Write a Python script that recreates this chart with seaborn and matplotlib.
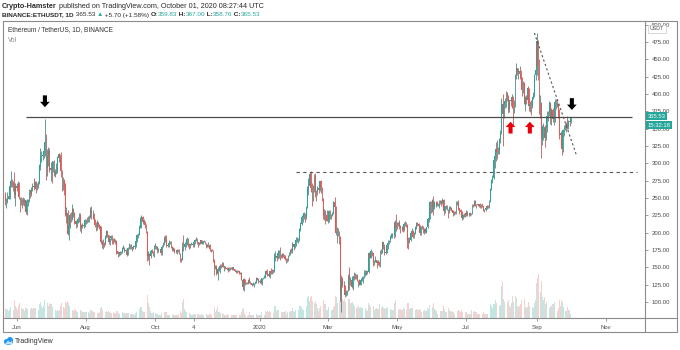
import numpy as np
import pandas as pd
import matplotlib
matplotlib.use("Agg")
import matplotlib.pyplot as plt
from matplotlib.lines import Line2D
from matplotlib.patches import Ellipse, Polygon
import seaborn as sns

# ---------------- data ----------------
start_date = "2019-05-22"
first_open = 256.0

close = [
    245, 245, 249, 253, 268, 274, 272, 270, 255, 268,  # May 2019
    265, 270, 251, 242, 247, 247, 244, 247, 230, 246, 247, 261, 256, 263, 268, 266, 273, 263, 270, 271,
    296, 309, 310, 312, 318, 331, 293, 311, 318, 290,  # Jun
    293, 291, 303, 283, 287, 288, 307, 313, 307, 289, 268, 275, 268, 226, 228, 198, 210, 225, 220, 234,
    229, 217, 213, 217, 219, 225, 207, 211, 210, 210, 218,  # Jul
    218, 217, 222, 222, 233, 225, 226, 219, 211, 206, 216, 211, 209, 187, 187, 184, 183, 194, 202, 196,
    187, 192, 195, 190, 187, 188, 186, 173, 169, 169, 172,  # Aug
    172, 178, 178, 174, 174, 168, 178, 181, 180, 180, 178, 180, 180, 188, 197, 197, 208, 220, 222, 216,
    216, 211, 201, 166, 169, 166, 174, 174, 170, 180,  # Sep
    180, 180, 175, 176, 176, 170, 180, 185, 193, 191, 181, 182, 185, 187, 180, 175, 177, 172, 172, 175,
    174, 170, 162, 161, 180, 179, 184, 184, 191, 183, 182,  # Oct
    183, 183, 182, 186, 189, 191, 186, 183, 185, 189, 184, 187, 187, 184, 180, 182, 182, 176, 175, 174,
    161, 150, 152, 141, 147, 148, 152, 150, 155, 151,  # Nov
    151, 149, 147, 146, 148, 149, 147, 150, 147, 145, 143, 145, 144, 141, 142, 132, 122, 133, 128, 128,
    127, 132, 128, 127, 125, 125, 127, 128, 134, 132, 129,  # Dec
    130, 127, 134, 134, 136, 144, 142, 141, 138, 144, 142, 146, 144, 165, 166, 164, 171, 174, 167, 166,
    169, 168, 162, 162, 160, 168, 170, 175, 174, 184, 180,  # Jan 2020
    183, 189, 189, 189, 204, 213, 223, 223, 228, 223, 236, 265, 268, 284, 264, 259, 267, 282, 259, 258,
    265, 261, 274, 265, 248, 225, 227, 226, 217,  # Feb
    218, 231, 224, 224, 228, 244, 237, 200, 201, 201, 194, 112, 133, 124, 124, 110, 115, 117, 137, 131,
    131, 122, 135, 138, 136, 138, 131, 131, 125, 132, 133,  # Mar
    136, 141, 141, 144, 143, 170, 164, 174, 170, 157, 158, 161, 156, 157, 153, 172, 171, 186, 180, 171,
    171, 182, 185, 189, 194, 197, 197, 196, 215, 206,  # Apr
    212, 214, 210, 207, 206, 204, 212, 212, 211, 188, 186, 190, 199, 203, 194, 199, 207, 214, 213, 210,
    199, 208, 206, 201, 205, 201, 208, 220, 220, 244, 231,  # May
    247, 237, 244, 244, 240, 241, 244, 246, 243, 247, 231, 237, 238, 234, 231, 235, 236, 232, 229, 229,
    228, 243, 243, 235, 232, 230, 221, 225, 228, 226,  # Jun
    230, 226, 225, 229, 227, 241, 239, 246, 242, 241, 240, 241, 239, 241, 238, 233, 232, 235, 239, 236,
    245, 263, 275, 279, 305, 311, 321, 317, 318, 335, 345,  # Jul
    386, 371, 386, 390, 401, 395, 379, 391, 390, 395, 380, 387, 428, 437, 432, 433, 429, 423, 406, 416,
    386, 395, 392, 408, 383, 386, 383, 395, 399, 428, 435,  # Aug
    477, 440, 385, 387, 335, 353, 353, 337, 351, 368, 374, 387, 365, 377, 364, 365, 389, 384, 385, 371,
    341, 344, 320, 348, 351, 354, 357, 354, 360, 359.83,  # Sep
    365.53,  # Oct 1
]

high = [
    258, 250, 258, 258, 270, 289, 277, 274, 288, 271,
    272, 275, 273, 252, 252, 250, 251, 250, 247, 249, 249, 263, 260, 266, 271, 279, 275, 274, 272, 275,
    299, 322, 318, 316, 323, 364, 342, 321, 323, 322,
    302, 294, 304, 305, 292, 300, 311, 315, 314, 316, 291, 280, 278, 271, 237, 232, 214, 229, 230, 241,
    235, 230, 218, 219, 223, 228, 228, 213, 214, 213, 220,
    220, 222, 224, 225, 237, 238, 232, 228, 220, 216, 218, 216, 213, 210, 190, 191, 187, 197, 204, 202,
    197, 193, 197, 197, 192, 193, 191, 189, 174, 171, 174,
    174, 180, 182, 180, 176, 176, 180, 185, 183, 183, 180, 182, 181, 189, 198, 200, 211, 223, 225, 224,
    219, 217, 212, 203, 173, 170, 175, 176, 174, 182,
    185, 181, 181, 178, 177, 178, 182, 187, 195, 196, 197, 184, 189, 188, 188, 181, 179, 178, 174, 176,
    177, 177, 171, 163, 186, 197, 186, 189, 194, 192, 185,
    184, 186, 184, 189, 191, 194, 192, 187, 186, 190, 190, 188, 189, 188, 185, 183, 186, 183, 177, 177,
    175, 162, 153, 153, 150, 150, 155, 155, 157, 157,
    152, 152, 150, 150, 150, 150, 150, 151, 151, 148, 146, 146, 146, 145, 143, 143, 133, 134, 133, 129,
    129, 133, 136, 130, 127, 129, 127, 130, 136, 135, 134,
    133, 131, 135, 136, 139, 145, 146, 147, 141, 145, 149, 147, 146, 171, 173, 166, 175, 175, 179, 169,
    170, 171, 168, 164, 163, 168, 172, 177, 178, 186, 184,
    185, 194, 194, 192, 206, 216, 225, 227, 230, 229, 238, 268, 279, 287, 289, 271, 269, 285, 286, 261,
    268, 264, 275, 276, 266, 250, 234, 232, 232,
    223, 232, 233, 227, 230, 245, 251, 238, 208, 207, 202, 195, 139, 136, 130, 124, 118, 118, 140, 150,
    136, 137, 136, 143, 142, 140, 140, 132, 133, 134, 135,
    137, 146, 146, 146, 145, 172, 174, 176, 174, 171, 160, 167, 161, 160, 159, 175, 176, 188, 187, 184,
    175, 183, 189, 190, 196, 199, 199, 199, 218, 227,
    216, 216, 218, 211, 209, 209, 215, 217, 215, 212, 194, 194, 201, 207, 204, 201, 210, 216, 216, 214,
    211, 209, 211, 210, 206, 207, 208, 221, 224, 246, 245,
    249, 253, 245, 246, 246, 243, 247, 247, 247, 250, 249, 239, 240, 240, 233, 239, 239, 237, 233, 231,
    231, 245, 245, 247, 236, 234, 231, 227, 229, 229,
    232, 231, 227, 230, 229, 242, 242, 247, 247, 242, 242, 242, 243, 241, 242, 239, 234, 237, 240, 240,
    247, 265, 278, 283, 306, 316, 331, 333, 324, 336, 348,
    394, 400, 388, 394, 405, 403, 399, 392, 394, 400, 397, 392, 429, 445, 438, 437, 440, 434, 424, 419,
    418, 397, 399, 411, 409, 390, 392, 396, 403, 429, 440,
    488, 478, 451, 398, 389, 356, 358, 355, 355, 376, 375, 390, 388, 380, 380, 370, 393, 393, 390, 386,
    378, 346, 346, 350, 356, 358, 359, 368, 362, 362,
    367.00,
]

low = [
    240, 236, 243, 248, 249, 266, 266, 260, 250, 238,
    260, 263, 249, 230, 240, 236, 240, 239, 227, 226, 239, 244, 250, 253, 260, 262, 265, 257, 261, 265,
    270, 290, 302, 305, 307, 310, 276, 282, 296, 288,
    275, 271, 287, 282, 280, 285, 286, 302, 300, 280, 260, 262, 255, 224, 214, 196, 189, 206, 216, 218,
    223, 212, 207, 208, 214, 216, 203, 200, 207, 206, 208,
    212, 214, 215, 215, 221, 220, 219, 215, 208, 202, 204, 208, 205, 184, 178, 177, 179, 182, 192, 194,
    183, 182, 189, 184, 184, 186, 183, 169, 165, 166, 168,
    169, 171, 176, 172, 170, 166, 168, 176, 176, 177, 174, 176, 177, 179, 187, 193, 196, 207, 207, 213,
    212, 207, 199, 159, 160, 153, 163, 170, 166, 165,
    177, 176, 171, 172, 173, 168, 168, 179, 182, 187, 180, 180, 180, 183, 178, 173, 174, 170, 170, 169,
    172, 169, 157, 158, 160, 173, 175, 180, 182, 180, 177,
    178, 182, 180, 180, 184, 188, 184, 180, 182, 184, 183, 183, 186, 183, 178, 180, 180, 174, 172, 173,
    158, 139, 147, 139, 131, 144, 142, 149, 150, 150,
    145, 147, 146, 143, 145, 146, 147, 146, 146, 144, 142, 142, 143, 140, 140, 131, 117, 116, 125, 126,
    126, 126, 127, 126, 123, 124, 122, 126, 127, 131, 128,
    128, 126, 125, 133, 134, 135, 141, 138, 136, 135, 140, 141, 142, 143, 159, 159, 162, 164, 161, 163,
    164, 165, 160, 156, 158, 159, 166, 168, 171, 171, 175,
    178, 181, 186, 185, 188, 202, 211, 216, 220, 216, 220, 236, 254, 266, 258, 238, 246, 259, 252, 245,
    255, 257, 260, 257, 245, 220, 218, 212, 217,
    214, 215, 220, 219, 224, 227, 236, 196, 185, 195, 183, 101, 86, 122, 120, 107, 108, 110, 116, 117,
    125, 120, 118, 131, 133, 133, 130, 121, 125, 124, 130,
    128, 135, 138, 139, 140, 142, 163, 163, 167, 152, 154, 157, 149, 154, 152, 151, 169, 170, 177, 168,
    169, 170, 177, 184, 186, 193, 192, 192, 194, 202,
    205, 210, 205, 199, 202, 201, 202, 209, 208, 178, 177, 185, 188, 197, 192, 193, 198, 205, 209, 205,
    196, 197, 205, 199, 198, 199, 200, 206, 216, 219, 228,
    230, 225, 234, 237, 239, 239, 235, 241, 239, 242, 225, 229, 234, 232, 221, 229, 232, 231, 224, 225,
    227, 227, 240, 232, 227, 228, 218, 220, 222, 223,
    224, 224, 224, 224, 225, 227, 237, 238, 238, 236, 238, 237, 236, 235, 237, 231, 230, 231, 234, 235,
    235, 244, 261, 271, 278, 293, 304, 306, 313, 313, 330,
    343, 325, 366, 380, 381, 390, 372, 374, 383, 380, 356, 373, 381, 421, 428, 421, 421, 417, 397, 402,
    386, 376, 385, 390, 375, 374, 369, 380, 393, 395, 420,
    428, 420, 371, 365, 308, 326, 333, 324, 333, 345, 361, 368, 357, 355, 360, 355, 360, 378, 381, 365,
    335, 332, 312, 316, 340, 348, 345, 350, 350, 354,
    358.76,
]

volume_k = [
    700, 550, 600, 450, 550, 750, 550, 550, 1200, 800,
    650, 550, 800, 1000, 700, 600, 600, 500, 650, 700, 600, 700, 600, 650, 600, 700, 650, 700, 600, 550,
    950, 1100, 800, 700, 850, 1200, 1300, 1000, 800, 1000,
    950, 950, 750, 700, 550, 500, 550, 500, 550, 850, 1000, 750, 650, 1100, 1000, 1150, 1000, 800, 650, 550,
    450, 600, 550, 500, 400, 500, 550, 450, 400, 400, 420,
    420, 380, 380, 330, 520, 520, 470, 420, 420, 420, 330, 330, 380, 650, 750, 550, 380, 420, 470, 420,
    470, 420, 330, 330, 380, 330, 330, 470, 470, 330, 280,
    280, 380, 330, 330, 280, 330, 330, 330, 280, 280, 280, 280, 230, 330, 430, 470, 620, 780, 780, 480,
    380, 380, 430, 1600, 1000, 750, 500, 330, 330, 430,
    330, 280, 280, 230, 190, 230, 330, 330, 430, 380, 430, 230, 230, 230, 280, 280, 230, 230, 190, 230,
    230, 280, 480, 330, 1100, 1300, 600, 480, 430, 430, 330,
    280, 230, 230, 280, 280, 280, 280, 280, 190, 230, 280, 230, 190, 230, 280, 190, 190, 280, 280, 230,
    480, 780, 380, 520, 780, 430, 430, 330, 330, 280,
    230, 230, 230, 280, 230, 190, 190, 190, 230, 230, 230, 230, 190, 230, 190, 380, 580, 680, 330, 230,
    140, 230, 380, 230, 190, 230, 230, 190, 280, 230, 230,
    230, 230, 380, 230, 230, 480, 430, 480, 380, 480, 430, 330, 330, 850, 850, 480, 570, 570, 620, 380,
    380, 380, 430, 480, 280, 380, 430, 480, 480, 660, 480,
    430, 520, 520, 520, 850, 850, 750, 620, 570, 660, 850, 1400, 1500, 1150, 1400, 1500, 1150, 1050, 1150, 950,
    660, 480, 660, 850, 850, 1250, 950, 950, 570,
    570, 750, 660, 570, 570, 750, 850, 1500, 1400, 1050, 1150, 1800, 1850, 1300, 1150, 1300, 1100, 1000, 1300, 1300,
    1050, 1000, 1100, 950, 850, 700, 750, 800, 650, 750, 700,
    700, 750, 700, 550, 450, 1050, 900, 750, 600, 850, 550, 600, 700, 600, 600, 950, 700, 850, 700, 700,
    600, 700, 750, 600, 600, 550, 550, 550, 1050, 1200,
    850, 550, 600, 600, 550, 550, 700, 600, 550, 1050, 1050, 600, 700, 700, 700, 450, 550, 600, 550, 550,
    600, 550, 400, 450, 550, 450, 450, 700, 600, 900, 750,
    750, 1000, 600, 550, 450, 300, 400, 450, 450, 450, 850, 600, 400, 400, 700, 550, 450, 400, 450, 400,
    300, 550, 450, 550, 450, 400, 550, 400, 400, 400,
    400, 300, 250, 250, 250, 550, 400, 450, 400, 400, 250, 250, 300, 300, 300, 400, 250, 250, 250, 300,
    550, 950, 850, 700, 950, 950, 1200, 1050, 700, 800, 900,
    2200, 2500, 1300, 1100, 1200, 1100, 1200, 850, 750, 1000, 1500, 1100, 1500, 1350, 850, 750, 850, 950, 1200, 850,
    1300, 750, 650, 750, 1100, 850, 850, 750, 650, 1000, 1200,
    2400, 2700, 3000, 1800, 2500, 1400, 1200, 1400, 950, 1100, 750, 650, 850, 850, 950, 950, 1100, 750, 450, 650,
    1200, 850, 1200, 1100, 750, 450, 450, 750, 550, 550,
    250,
]

tick_dates = ["2019-06-01", "2019-08-01", "2019-10-01", "2019-11-04", "2020-01-01",
              "2020-03-01", "2020-05-01", "2020-07-01", "2020-09-01", "2020-11-01"]
tick_labels = ["Jun", "Aug", "Oct", "4", "2020", "Mar", "May", "Jul", "Sep", "Nov"]
price_ticks = [100, 125, 150, 175, 200, 225, 250, 275, 300, 325, 350, 375, 400, 425, 450, 475, 500]

# analyst drawings
resistance_level = 367.0
resistance_span = ("2019-06-09", "2020-11-24")
support_level = 287.0
support_span = ("2020-02-02", "2020-11-28")
trend_start = ("2020-08-30", 488.0)
trend_end = ("2020-10-06", 312.0)
black_arrows = [("2019-06-26", 381.0), ("2020-10-02", 377.0)]
red_arrows = [("2020-08-09", 360.0), ("2020-08-26", 360.0)]

# ---------------- build ----------------
sns.set_theme(style="white")
plt.rcParams["font.family"] = ["Liberation Sans", "DejaVu Sans"]

n = min(len(close), len(high), len(low), len(volume_k))
t0 = pd.Timestamp(start_date)


def day(d):
    return (pd.Timestamp(d) - t0).days


idx = np.arange(n)
c = np.array(close[:n], float)
o = np.r_[first_open, c[:-1]]
h = np.maximum(np.array(high[:n], float), np.maximum(o, c))
lo = np.minimum(np.array(low[:n], float), np.minimum(o, c))
up = c >= o

UP, DN = "#26a69a", "#ef5350"
UPW, DNW = "#3f7f78", "#b5504d"

W, H = 680, 350
fig = plt.figure(figsize=(W / 100, H / 100), dpi=100)
fig.patch.set_facecolor("white")


def fx(x):
    return x / W


def fy(y):
    return 1 - y / H


L, R, T, B = 3, 645, 21, 318
rect = [fx(L), fy(B), (R - L) / W, (B - T) / H]
axv = fig.add_axes(rect, zorder=0)
ax = fig.add_axes(rect, zorder=1)
ax.patch.set_alpha(0)

# volume (seaborn)
df = pd.DataFrame({"day": idx, "vol": np.array(volume_k[:n], float),
                   "dir": np.where(up, "up", "down")})
sns.barplot(data=df, x="day", y="vol", hue="dir", palette={"up": UP, "down": DN},
            native_scale=True, dodge=False, width=0.8, errorbar=None, legend=False,
            saturation=1, alpha=0.27, linewidth=0, ax=axv)
xmin, xmax = -1.9, 563.4
axv.set_xlim(xmin, xmax)
axv.set_ylim(0, 3000 * (B - T) / 44)
axv.axis("off")

# candles
ax.vlines(idx, lo, h, colors=np.where(up, UPW, DNW), linewidth=0.55, zorder=2)
body = np.maximum(np.abs(c - o), 0.7)
ax.bar(idx, body, bottom=np.minimum(o, c), width=0.72, color=np.where(up, UP, DN),
       linewidth=0, zorder=3)

ax.set_xlim(xmin, xmax)
ax.set_ylim(76.9, 505.3)

# drawings
ax.hlines(resistance_level, day(resistance_span[0]), day(resistance_span[1]),
          color="#4d4d4d", linewidth=0.9, zorder=4)
ax.hlines(support_level, day(support_span[0]), day(support_span[1]),
          color="#555555", linewidth=0.8, linestyles=(0, (3, 3)), zorder=4)
ax.plot([day(trend_start[0]), day(trend_end[0])], [trend_start[1], trend_end[1]],
        color="#555555", linewidth=0.8, linestyle=(0, (2, 2.2)), zorder=4)

astyle = "simple,head_length=0.55,head_width=1.0,tail_width=0.42"
for d, tip in black_arrows:
    ax.annotate("", xy=(day(d), tip), xytext=(day(d), tip + 17),
                arrowprops=dict(arrowstyle=astyle, mutation_scale=7, color="black",
                                lw=0, shrinkA=0, shrinkB=0), zorder=5)
for d, tip in red_arrows:
    ax.annotate("", xy=(day(d), tip), xytext=(day(d), tip - 17),
                arrowprops=dict(arrowstyle=astyle, mutation_scale=7, color="#e8000b",
                                lw=0, shrinkA=0, shrinkB=0), zorder=5)

# axes styling
frame = "#8c8c8c"
for s in ax.spines.values():
    s.set_visible(True)
    s.set_color(frame)
    s.set_linewidth(0.8)
ax.yaxis.tick_right()
ax.set_yticks(price_ticks, [f"{v:.2f}" for v in price_ticks])
ax.set_xticks([day(d) for d in tick_dates], tick_labels)
ax.tick_params(axis="y", which="both", right=True, left=False, length=2.5, width=0.6,
               color=frame, labelsize=4.3, labelcolor="#4a4a4a", pad=2.5)
ax.tick_params(axis="x", which="both", bottom=True, length=2.2, width=0.6,
               color=frame, labelsize=4.3, labelcolor="#4a4a4a", pad=2.8)
ax.grid(False)
ax.set_xlabel("")
ax.set_ylabel("")


def fline(x0, y0, x1, y1):
    fig.add_artist(Line2D([fx(x0), fx(x1)], [fy(y0), fy(y1)], color=frame, linewidth=0.8))


fline(R, T, 677, T)
fline(677, T, 677, 332)
fline(L, 332, 677, 332)
fline(L, B, L, 332)
fline(R, B, R, 332)
fline(R, B, 677, B)

# price axis badges
fig.text(fx(657), fy(29), "USDT", fontsize=3.8, color="#505050", ha="center", va="center",
         bbox=dict(boxstyle="square,pad=0.35", fc="white", ec="#c8c8c8", lw=0.5))
fig.text(fx(647.5), fy(116), "365.53", fontsize=4.2, color="white", ha="left", va="center",
         bbox=dict(boxstyle="square,pad=0.3", fc=UP, ec="none"))
fig.text(fx(647.5), fy(125), "15:32:18", fontsize=4.2, color="white", ha="left", va="center",
         bbox=dict(boxstyle="square,pad=0.3", fc=UP, ec="none"))

# texts
renderer = fig.canvas.get_renderer()


def seq_text(x0, y, parts, size):
    x = x0
    for s, color, weight in parts:
        t = fig.text(fx(x), fy(y), s, color=color, fontsize=size, fontweight=weight,
                     ha="left", va="center")
        x += t.get_window_extent(renderer=renderer).width


dark = "#2a2a2a"
seq_text(2, 6, [("Crypto-Hamster", dark, "bold"),
                (" published on TradingView.com, October 01, 2020 08:27:44 UTC", dark, "normal")], 5.2)
seq_text(2, 15, [("BINANCE:ETHUSDT, 1D", dark, "bold"), (" 365.53 ", dark, "normal"),
                 ("▲", UP, "normal"), (" +5.70 (+1.58%) ", dark, "normal"),
                 ("O:", dark, "bold"), ("359.83", UP, "normal"),
                 (" H:", dark, "bold"), ("367.00", UP, "normal"),
                 (" L:", dark, "bold"), ("358.76", UP, "normal"),
                 (" C:", dark, "bold"), ("365.53", UP, "normal")], 4.6)
fig.text(fx(8), fy(30), "Ethereum / TetherUS, 1D, BINANCE", fontsize=4.7, color="#333333",
         ha="left", va="center")
fig.text(fx(8), fy(40), "Vol", fontsize=4.7, color="#8a8a8a", ha="left", va="center")

# TradingView logo (small blue cloud) + name
logo = "#2196f3"
fig.add_artist(Ellipse((fx(8.5), fy(342.5)), 9 / W, 4.5 / H, color=logo, lw=0))
fig.add_artist(Ellipse((fx(6.5), fy(341.5)), 5 / W, 5 / H, color=logo, lw=0))
fig.add_artist(Ellipse((fx(10), fy(340)), 6 / W, 6 / H, color=logo, lw=0))
fig.add_artist(Polygon([(fx(5), fy(344)), (fx(8), fy(340.5)), (fx(10), fy(342.5)),
                        (fx(11.5), fy(341)), (fx(13), fy(344))], closed=True,
                       color="#bfe3ff", lw=0))
fig.text(fx(15), fy(341.5), "TradingView", fontsize=5.0, color="#333333", ha="left", va="center")

fig.savefig("out.png", dpi=100, facecolor="white")
